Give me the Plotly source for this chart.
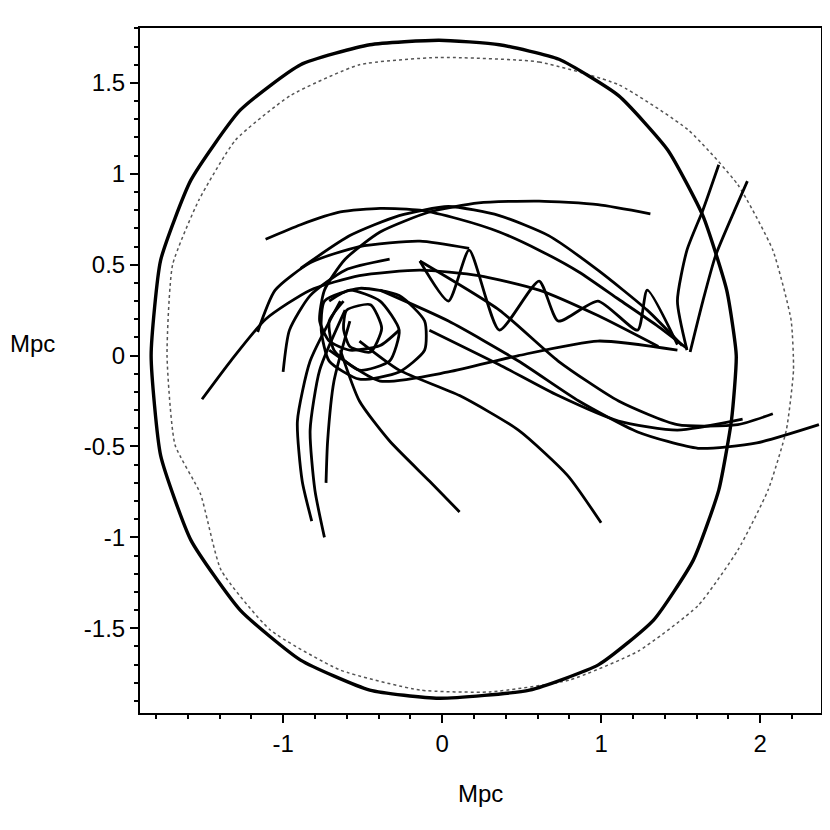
import plotly.graph_objects as go

# ---------------- data (Mpc) ----------------
x_tick_vals = [-1, 0, 1, 2]
x_tick_text = ["-1", "0", "1", "2"]
y_tick_vals = [-1.5, -1, -0.5, 0, 0.5, 1, 1.5]
y_tick_text = ["-1.5", "-1", "-0.5", "0", "0.5", "1", "1.5"]

bold_ring_x = [-0.02, 0.36, 0.735, 1.11, 1.42, 1.64, 1.79, 1.85, 1.82, 1.74, 1.58, 1.33, 0.985, 0.55,
               -0.02, -0.455, -0.89, -1.27, -1.58, -1.77, -1.83, -1.77, -1.58, -1.27, -0.89, -0.455, -0.02]
bold_ring_y = [1.735, 1.71, 1.63, 1.43, 1.13, 0.77, 0.36, 0.0, -0.355, -0.74, -1.125, -1.455, -1.70, -1.84,
               -1.885, -1.84, -1.675, -1.40, -1.015, -0.55, 0.0, 0.525, 0.965, 1.35, 1.60, 1.71, 1.735]

dotted_ring_x = [-0.02, 0.61, 1.11, 1.55, 1.86, 2.08, 2.195, 2.21, 2.165, 2.05, 1.86, 1.61, 1.235, 0.80,
                 0.30, -0.14, -0.64, -1.08, -1.39, -1.52, -1.68, -1.73, -1.695, -1.53, -1.30, -0.955, -0.52, -0.02]
dotted_ring_y = [1.64, 1.615, 1.49, 1.24, 0.94, 0.58, 0.195, -0.08, -0.41, -0.74, -1.07, -1.375, -1.625, -1.785,
                 -1.85, -1.84, -1.73, -1.51, -1.18, -0.76, -0.49, 0.0, 0.50, 0.855, 1.185, 1.43, 1.60, 1.64]

orbit_a_x = [-1.11, -0.89, -0.64, -0.39, -0.14, 0.11, 0.36, 0.61, 0.86, 1.11, 1.36, 1.54]
orbit_a_y = [0.64, 0.72, 0.79, 0.81, 0.80, 0.75, 0.68, 0.58, 0.46, 0.31, 0.16, 0.04]
orbit_b_x = [1.31, 0.98, 0.61, 0.23, -0.08, -0.39, -0.61, -0.74, -0.77, -0.71, -0.58, -0.39, -0.27]
orbit_b_y = [0.78, 0.83, 0.85, 0.84, 0.79, 0.68, 0.53, 0.36, 0.19, 0.08, 0.03, 0.055, 0.14]
orbit_c_x = [1.54, 1.48, 1.54, 1.64, 1.74]
orbit_c_y = [0.03, 0.30, 0.58, 0.80, 1.05]
orbit_d_x = [1.56, 1.64, 1.72, 1.84, 1.92]
orbit_d_y = [0.02, 0.30, 0.55, 0.80, 0.96]
orbit_e_x = [-0.39, 0.04, 0.48, 0.86, 1.23, 1.61, 1.98, 2.37]
orbit_e_y = [0.36, 0.19, -0.03, -0.25, -0.42, -0.51, -0.48, -0.38]
orbit_f_x = [-0.14, 0.36, 0.73, 1.11, 1.48, 1.86, 2.08]
orbit_f_y = [0.52, 0.25, -0.03, -0.25, -0.38, -0.38, -0.32]
orbit_g_x = [-0.08, 0.36, 0.73, 1.11, 1.48, 1.89]
orbit_g_y = [0.14, -0.05, -0.22, -0.36, -0.41, -0.35]
orbit_h_x = [-0.52, -0.27, 0.11, 0.48, 0.79, 1.0]
orbit_h_y = [0.08, -0.08, -0.22, -0.41, -0.66, -0.92]
orbit_i_x = [-0.64, -0.52, -0.33, -0.08, 0.11]
orbit_i_y = [0.03, -0.25, -0.47, -0.69, -0.86]
orbit_j1_x = [-0.64, -0.83, -0.91, -0.88, -0.82]
orbit_j1_y = [0.30, -0.03, -0.36, -0.69, -0.91]
orbit_j2_x = [-0.61, -0.77, -0.83, -0.80, -0.74]
orbit_j2_y = [0.25, -0.08, -0.41, -0.74, -1.0]
orbit_j3_x = [-0.58, -0.68, -0.72, -0.73]
orbit_j3_y = [0.19, -0.14, -0.47, -0.70]
orbit_k_x = [-1.51, -1.33, -1.11, -0.83, -0.52, -0.14, 0.23, 0.61, 0.98, 1.36]
orbit_k_y = [-0.24, -0.03, 0.20, 0.36, 0.44, 0.47, 0.44, 0.36, 0.22, 0.05]
orbit_l_x = [-1.16, -1.05, -0.83, -0.52, -0.14, 0.17]
orbit_l_y = [0.13, 0.36, 0.51, 0.60, 0.63, 0.59]
orbit_m_x = [-1.0, -0.96, -0.83, -0.61, -0.33]
orbit_m_y = [-0.09, 0.14, 0.33, 0.47, 0.53]
orbit_top_x = [-0.89, -0.58, -0.27, 0.04, 0.36, 0.67, 0.98, 1.29, 1.51]
orbit_top_y = [0.48, 0.66, 0.77, 0.82, 0.77, 0.66, 0.47, 0.25, 0.055]
loop_1_x = [-0.71, -0.58, -0.39, -0.27, -0.33, -0.52, -0.68, -0.71, -0.62]
loop_1_y = [0.30, 0.36, 0.30, 0.14, -0.03, -0.08, 0.03, 0.19, 0.30]
loop_2_x = [-0.6, -0.45, -0.38, -0.45, -0.58, -0.62, -0.6]
loop_2_y = [0.25, 0.28, 0.15, 0.02, 0.05, 0.15, 0.25]
loop_3_x = [-0.74, -0.52, -0.27, -0.11, -0.11, -0.27, -0.52, -0.71, -0.76, -0.74]
loop_3_y = [0.30, 0.37, 0.33, 0.19, 0.03, -0.09, -0.13, -0.03, 0.14, 0.30]
orbit_low_x = [-0.71, -0.39, 0.04, 0.48, 0.98, 1.48]
orbit_low_y = [0.03, -0.14, -0.09, 0.0, 0.08, 0.03]
orbit_zig_x = [-0.14, 0.04, 0.17, 0.36, 0.61, 0.73, 0.98, 1.23, 1.29, 1.48]
orbit_zig_y = [0.52, 0.30, 0.58, 0.14, 0.41, 0.19, 0.30, 0.14, 0.36, 0.06]

orbits = [
    (orbit_a_x, orbit_a_y), (orbit_b_x, orbit_b_y), (orbit_c_x, orbit_c_y), (orbit_d_x, orbit_d_y),
    (orbit_e_x, orbit_e_y), (orbit_f_x, orbit_f_y), (orbit_g_x, orbit_g_y), (orbit_h_x, orbit_h_y),
    (orbit_i_x, orbit_i_y), (orbit_j1_x, orbit_j1_y), (orbit_j2_x, orbit_j2_y), (orbit_j3_x, orbit_j3_y),
    (orbit_k_x, orbit_k_y), (orbit_l_x, orbit_l_y), (orbit_m_x, orbit_m_y), (orbit_top_x, orbit_top_y),
    (loop_1_x, loop_1_y), (loop_2_x, loop_2_y), (loop_3_x, loop_3_y),
    (orbit_low_x, orbit_low_y), (orbit_zig_x, orbit_zig_y),
]

# ---------------- figure ----------------
fig = go.Figure()
fig.add_trace(go.Scatter(x=dotted_ring_x, y=dotted_ring_y, mode="lines",
                         line=dict(color="#555555", width=1.5, dash="dot", shape="spline", smoothing=0.5),
                         hoverinfo="skip"))
fig.add_trace(go.Scatter(x=bold_ring_x, y=bold_ring_y, mode="lines",
                         line=dict(color="black", width=3.4, shape="spline", smoothing=0.5), hoverinfo="skip"))
for ox, oy in orbits:
    fig.add_trace(go.Scatter(x=ox, y=oy, mode="lines",
                             line=dict(color="black", width=2.8, shape="spline", smoothing=0.6),
                             hoverinfo="skip"))

font = dict(family="Liberation Sans, Arial, sans-serif", size=24, color="black")
axis_common = dict(showgrid=False, zeroline=False, showline=True, linecolor="black", linewidth=2,
                   mirror=True, ticks="outside", tickcolor="black", tickwidth=1.5, ticklen=8,
                   tickfont=font)
# the page body adds an 8px offset, so the figure is 822 wide/high
fig.update_layout(
    width=822, height=822, showlegend=False,
    paper_bgcolor="white", plot_bgcolor="white",
    margin=dict(l=132, r=7, t=20, b=117),
    xaxis=dict(range=[-1.90, 2.383], tickmode="array", tickvals=x_tick_vals, ticktext=x_tick_text,
               minor=dict(dtick=0.2, tick0=0, ticks="outside", ticklen=4, tickwidth=1.5, tickcolor="black"),
               **axis_common),
    yaxis=dict(range=[-1.966, 1.802], tickmode="array", tickvals=y_tick_vals, ticktext=y_tick_text,
               minor=dict(dtick=0.1, tick0=0, ticks="outside", ticklen=4, tickwidth=1.5, tickcolor="black"),
               **axis_common),
    annotations=[
        dict(text="Mpc", x=0.5, xref="paper", y=-0.118, yref="paper", showarrow=False, font=font,
             xanchor="center", yanchor="middle"),
        dict(text="Mpc", x=-0.158, xref="paper", y=0.54, yref="paper", showarrow=False, font=font,
             xanchor="center", yanchor="middle"),
    ],
)
fig.write_html("out.html")
